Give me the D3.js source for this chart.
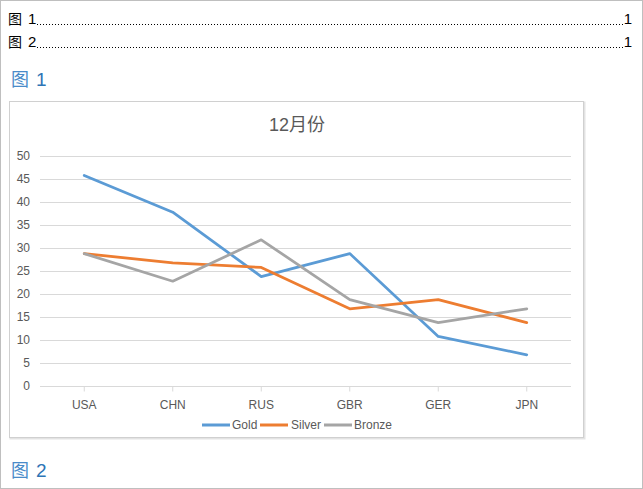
<!DOCTYPE html>
<html><head><meta charset="utf-8">
<script src="https://cdn.jsdelivr.net/npm/d3@7/dist/d3.min.js"></script>
<style>
html,body{margin:0;padding:0;background:#fff;}
svg{display:block;}
text{font-family:"Liberation Sans",Arial,"Noto Sans CJK SC",sans-serif;}
</style></head>
<body>
<svg id="c" width="643" height="489"></svg>
<script>
const categories = ["USA","CHN","RUS","GBR","GER","JPN"];
const seriesNames = ["Gold","Silver","Bronze"];
const gold   = [46, 38, 24, 29, 11, 7];
const silver = [29, 27, 26, 17, 19, 14];
const bronze = [29, 23, 32, 19, 14, 17];
const yTicks = [0,5,10,15,20,25,30,35,40,45,50];
const colors = ["#5b9bd5","#ed7d31","#a5a5a5"];
const chartTitle = "12月份";
const tocEntries = [["图","1","1"],["图","2","1"]];

const svg = d3.select("#c");
// page border
svg.append("rect").attr("x",0.5).attr("y",0.5).attr("width",642).attr("height",488)
  .attr("fill","#fff").attr("stroke","#bfbfbf");

// TOC
tocEntries.forEach((e,i)=>{
  const by = 24 + i*23;
  svg.append("text").attr("x",8).attr("y",by).attr("font-size",14).attr("fill","#000")
    .attr("font-family","Noto Sans CJK SC").text(e[0]);
  svg.append("text").attr("x",28).attr("y",by).attr("font-size",15).attr("fill","#000").text(e[1]);
  svg.append("line").attr("x1",37).attr("x2",624).attr("y1",by+0.5).attr("y2",by+0.5)
    .attr("stroke","#000").attr("stroke-width",1).attr("stroke-dasharray","1,2");
  svg.append("text").attr("x",632).attr("y",by).attr("text-anchor","end").attr("font-size",15).attr("fill","#000").text(e[2]);
});

// headings
function heading(label, y){
  svg.append("text").attr("x",11).attr("y",y).attr("font-size",18).attr("fill","#4a8bc9")
    .attr("font-family","Noto Sans CJK SC").text("图");
  svg.append("text").attr("x",36).attr("y",y).attr("font-size",19).attr("fill","#2e75b6").text(label);
}
heading("1", 86);
heading("2", 477);

// chart box
svg.append("rect").attr("x",10.5).attr("y",102.5).attr("width",574).attr("height",336)
  .attr("fill","none").attr("stroke","#e3e3e3").attr("stroke-width",2);
svg.append("rect").attr("x",9.5).attr("y",101.5).attr("width",574).attr("height",336)
  .attr("fill","#fff").attr("stroke","#d0d0d0").attr("stroke-width",1);

svg.append("text").attr("x",297).attr("y",131).attr("text-anchor","middle")
  .attr("font-size",18).attr("fill","#595959").text(chartTitle);

const x = d3.scaleBand().domain(categories).range([40,571]);
const y = d3.scaleLinear().domain([0,50]).range([386,156]);

// gridlines
svg.append("g").selectAll("line").data(yTicks.filter(d=>d>0)).join("line")
  .attr("x1",40).attr("x2",571).attr("y1",d=>Math.round(y(d))+0.5).attr("y2",d=>Math.round(y(d))+0.5)
  .attr("stroke","#d9d9d9").attr("stroke-width",1);

// y labels
const yAxis = svg.append("g").attr("transform","translate(30,0)")
  .call(d3.axisLeft(y).tickValues(yTicks).tickSize(0).tickPadding(0));
yAxis.select(".domain").remove();
yAxis.selectAll("text").attr("font-size",12).attr("fill","#595959")
  .attr("font-family","Liberation Sans, Arial, sans-serif");

// x axis
const xAxis = svg.append("g").attr("transform","translate(0,386.5)")
  .call(d3.axisBottom(x).tickSize(5).tickSizeOuter(0).tickPadding(9));
xAxis.select(".domain").attr("stroke","#d9d9d9").attr("d","M40,0H571");
xAxis.selectAll(".tick line").attr("stroke","#d9d9d9");
xAxis.selectAll("text").attr("font-size",12).attr("fill","#595959")
  .attr("font-family","Liberation Sans, Arial, sans-serif");

// lines
const data = [gold, silver, bronze];
const line = d3.line().x((d,i)=>x(categories[i]) + x.bandwidth()/2).y(d=>y(d)+1);
svg.append("g").selectAll("path").data(data).join("path")
  .attr("d",line).attr("fill","none")
  .attr("stroke",(d,i)=>colors[i]).attr("stroke-width",2.75)
  .attr("stroke-linejoin","round").attr("stroke-linecap","round");

// legend
const legendItems = [{x:202,tx:232},{x:260,tx:291},{x:324,tx:354}];
const lg = svg.append("g");
seriesNames.forEach((n,i)=>{
  const it = legendItems[i];
  lg.append("line").attr("x1",it.x).attr("x2",it.x+28).attr("y1",425).attr("y2",425)
    .attr("stroke",colors[i]).attr("stroke-width",3);
  lg.append("text").attr("x",it.tx).attr("y",429).attr("font-size",12).attr("fill","#595959").text(n);
});
</script>
</body></html>
